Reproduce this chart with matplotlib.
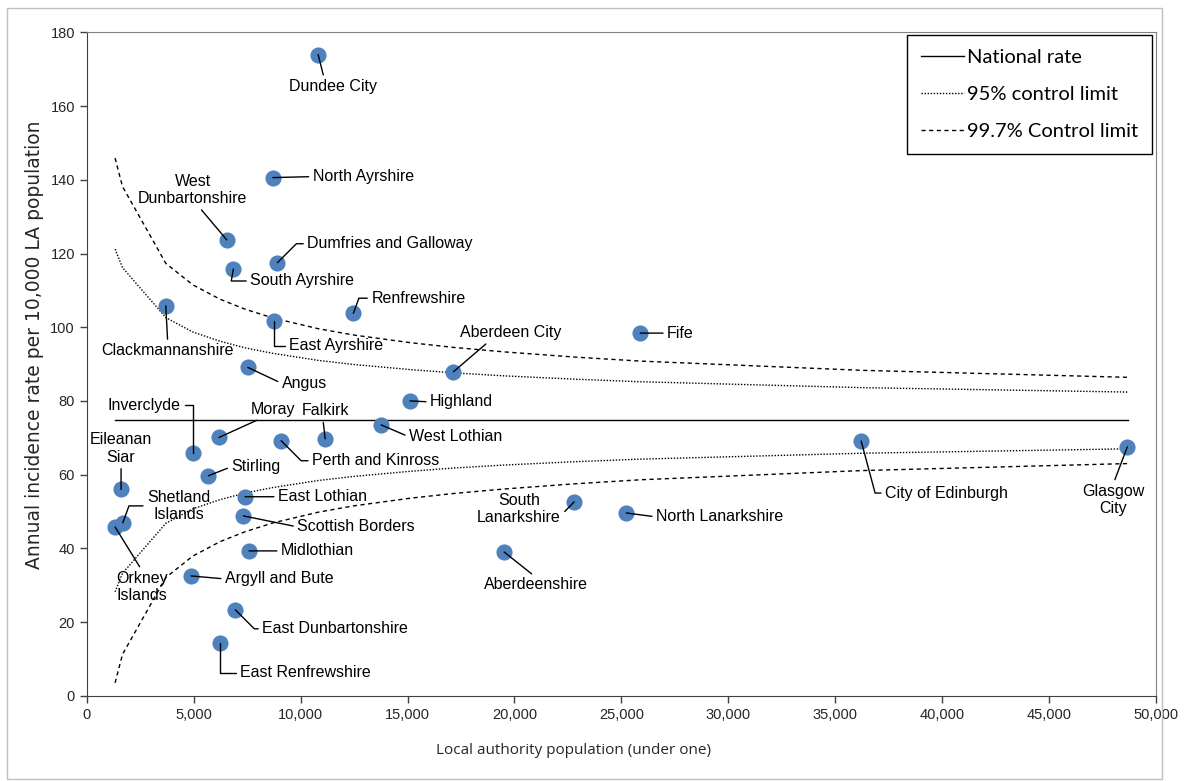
import matplotlib.pyplot as plt
from matplotlib.patches import Rectangle
from matplotlib.ticker import FuncFormatter

plt.rcParams['font.family'] = ['Liberation Sans', 'DejaVu Sans']

# local authorities: population under one and annual incidence rate per 10,000
areas = ['Dundee City', 'North Ayrshire', 'West\nDunbartonshire', 'Dumfries and Galloway',
         'South Ayrshire', 'Renfrewshire', 'Clackmannanshire', 'East Ayrshire', 'Angus',
         'Aberdeen City', 'Fife', 'Highland', 'West Lothian', 'Falkirk', 'Perth and Kinross',
         'Moray', 'Inverclyde', 'Stirling', 'Eileanan\nSiar', 'East Lothian',
         'Shetland\nIslands', 'Orkney\nIslands', 'Scottish Borders', 'Midlothian',
         'Argyll and Bute', 'East Dunbartonshire', 'East Renfrewshire', 'South\nLanarkshire',
         'North Lanarkshire', 'Aberdeenshire', 'City of Edinburgh', 'Glasgow\nCity']
population = [10820, 8700, 6548, 8915, 6857, 12470, 3695, 8775, 7530, 17146, 25880, 15120,
              13765, 11150, 9090, 6190, 4990, 5690, 1605, 7405, 1685, 1325, 7325, 7590,
              4880, 6950, 6235, 22790, 25225, 19520, 36215, 48660]
rate = [174.0, 140.6, 123.7, 117.5, 115.8, 103.8, 105.8, 101.7, 89.1, 87.9, 98.4, 80.0,
        73.5, 69.7, 69.2, 70.1, 65.8, 59.7, 56.0, 54.0, 46.9, 45.8, 48.8, 39.3,
        32.5, 23.3, 14.4, 52.6, 49.6, 39.0, 69.1, 67.5]

national_rate = 74.8
limit_pop = [1325, 1670, 3700, 4960, 6230, 7400, 8710, 10820, 12460, 15130, 17190, 19530,
             22810, 25900, 36250, 48710]
upper_95 = [121.2, 116.2, 102.6, 98.7, 96.2, 94.4, 92.9, 91.0, 89.9, 88.5, 87.6, 86.8,
            85.9, 85.2, 83.6, 82.4]
lower_95 = [28.2, 33.2, 46.8, 50.7, 53.2, 55.0, 56.5, 58.4, 59.5, 60.9, 61.8, 62.6,
            63.5, 64.2, 65.8, 67.0]
upper_997 = [145.9, 138.2, 117.3, 111.5, 107.6, 104.9, 102.5, 99.6, 97.9, 95.8, 94.5, 93.3,
             91.9, 90.8, 88.3, 86.4]
lower_997 = [3.5, 11.2, 32.1, 37.9, 41.8, 44.5, 46.9, 49.8, 51.5, 53.6, 54.9, 56.1,
             57.5, 58.6, 61.1, 63.0]

# label placement: offset in pixels, alignment, leader attach point, connection
label_style = {
    'Dundee City': (15, -32, 'center', (0.4, 1), None),
    'North Ayrshire': (40, 1, 'left', (0, 0.5), None),
    'West\nDunbartonshire': (-34, 50, 'center', (0.55, 0), None),
    'Dumfries and Galloway': (30, 19, 'left', (0, 0.5), 'angle,angleA=0,angleB=45,rad=0'),
    'South Ayrshire': (17, -12, 'left', (0, 0.5), 'angle,angleA=0,angleB=80,rad=0'),
    'Renfrewshire': (18, 15, 'left', (0, 0.5), 'angle,angleA=0,angleB=70,rad=0'),
    'Clackmannanshire': (2, -45, 'center', (0.5, 1), None),
    'East Ayrshire': (15, -25, 'left', (0, 0.5), 'angle,angleA=0,angleB=90,rad=0'),
    'Angus': (34, -16, 'left', (0, 0.5), None),
    'Aberdeen City': (57, 39, 'center', (0.3, 0), None),
    'Fife': (27, 0, 'left', (0, 0.5), None),
    'Highland': (20, -1, 'left', (0, 0.5), None),
    'West Lothian': (28, -12, 'left', (0, 0.5), None),
    'Falkirk': (0, 28, 'center', (0.45, 0), None),
    'Perth and Kinross': (31, -20, 'left', (0, 0.5), 'angle,angleA=0,angleB=-45,rad=0'),
    'Moray': (54, 28, 'center', (0.3, 0), None),
    'Inverclyde': (-13, 48, 'right', (1, 0.5), 'angle,angleA=0,angleB=90,rad=0'),
    'Eileanan\nSiar': (0, 41, 'center', (0.5, 0), None),
    'Stirling': (23, 9, 'left', (0, 0.5), None),
    'East Lothian': (33, 0, 'left', (0, 0.5), None),
    'Shetland\nIslands': (56, 17, 'center', (0, 0.5), 'angle,angleA=0,angleB=70,rad=0'),
    'Orkney\nIslands': (27, -60, 'center', (0.5, 1), None),
    'Scottish Borders': (54, -11, 'left', (0, 0.5), None),
    'Midlothian': (32, 0, 'left', (0, 0.5), None),
    'Argyll and Bute': (34, -3, 'left', (0, 0.5), None),
    'East Dunbartonshire': (27, -19, 'left', (0, 0.5), 'angle,angleA=0,angleB=-45,rad=0'),
    'East Renfrewshire': (20, -30, 'left', (0, 0.5), 'angle,angleA=0,angleB=90,rad=0'),
    'South\nLanarkshire': (-55, -7, 'center', (1, 0.3), None),
    'North Lanarkshire': (30, -4, 'left', (0, 0.5), None),
    'Aberdeenshire': (32, -33, 'center', (0.5, 1), None),
    'City of Edinburgh': (24, -52, 'left', (0, 0.5), 'angle,angleA=0,angleB=-75,rad=0'),
    'Glasgow\nCity': (-14, -53, 'center', (0.5, 1), None),
}

fig = plt.figure(figsize=(11.9, 7.81), dpi=100)
ax = fig.add_axes([0.0729, 0.1092, 0.8985, 0.8493])

ax.plot([limit_pop[0], limit_pop[-1]], [national_rate, national_rate], color='black',
        lw=1.0, label='National rate')
ax.plot(limit_pop, upper_95, color='black', lw=1.0, dashes=(1, 1.2), label='95% control limit')
ax.plot(limit_pop, lower_95, color='black', lw=1.0, dashes=(1, 1.2))
ax.plot(limit_pop, upper_997, color='black', lw=1.0, dashes=(3, 2.5), label='99.7% Control limit')
ax.plot(limit_pop, lower_997, color='black', lw=1.0, dashes=(3, 2.5))

ax.scatter(population, rate, s=135, color='#4F81BD', zorder=3, linewidths=0)

for name, x, y in zip(areas, population, rate):
    dx, dy, ha, rel, conn = label_style[name]
    arrow = dict(arrowstyle='-', color='black', lw=1.0, shrinkA=1, shrinkB=0, relpos=rel)
    if conn:
        arrow['connectionstyle'] = conn
    ax.annotate(name, xy=(x, y), xytext=(dx, dy), textcoords='offset pixels',
                ha=ha, va='center', ma='center', fontsize=11.5, color='black',
                arrowprops=arrow, zorder=4)

ax.set_xlim(0, 50000)
ax.set_ylim(0, 180)
ax.set_xticks(range(0, 50001, 5000))
ax.set_yticks(range(0, 181, 20))
ax.xaxis.set_major_formatter(FuncFormatter(lambda v, p: f'{int(v):,}'))
ax.tick_params(direction='out', length=5, width=1, color='#404040', labelsize=10.5,
               labelcolor='#262626')
for side in ['left', 'bottom']:
    ax.spines[side].set_color('#404040')
for side in ['top', 'right']:
    ax.spines[side].set_color('#808080')

leg = ax.legend(loc='upper right', bbox_to_anchor=(0.9963, 0.9961), borderaxespad=0,
                fancybox=False, edgecolor='black', framealpha=1, handlelength=2.1,
                handletextpad=0.15, labelspacing=0.98, borderpad=0.7,
                prop={'family': 'Lato', 'size': 14.5})
leg.get_frame().set_linewidth(1.0)

fig.text(574 / 1190, 1 - 750 / 781, 'Local authority population (under one)',
         ha='center', va='center', fontsize=11, family='Open Sans', color='#262626')
fig.text(35 / 1190, 1 - 345 / 781, 'Annual incidence rate per 10,000 LA population',
         ha='center', va='center', rotation=90, fontsize=13.5, family='DejaVu Sans',
         color='#262626')

fig.patches.append(Rectangle((7 / 1190, 2 / 781), 1155 / 1190, 771 / 781,
                             transform=fig.transFigure, fill=False, edgecolor='#bfbfbf', lw=1))

fig.savefig('out.png', dpi=100)
